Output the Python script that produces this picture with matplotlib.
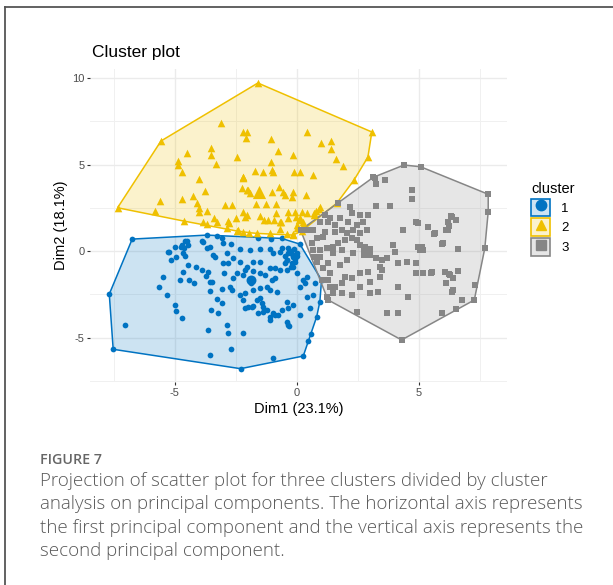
import matplotlib
matplotlib.use("Agg")
import matplotlib.pyplot as plt
from matplotlib.patches import Polygon, Patch
from matplotlib.lines import Line2D
from matplotlib.legend_handler import HandlerTuple

plt.rcParams['font.family'] = ['Liberation Sans', 'DejaVu Sans']
plt.rcParams['axes.unicode_minus'] = False

# cluster 1 (blue), Dim1 / Dim2
c1_x = [-6.75, -7.69, -7.53, -2.31, 0.26, 0.46, 0.56, 0.94, 1.01, 0.12, -0.63, -3.7,
        -3.29, -3.09, -4.59, -4.45, -4.77, -4.66, -5.27, -5.18, -3.84, -3.57, -3.02, -2.7,
        -3.43, -3.36, -2.88, -2.34, -1.93, -1.52, -1.11, -0.7, -0.97, -0.36, -0.36, -0.15,
        -0.08, -2.61, -2.82, -2.34, -2.06, -1.79, -1.52, -3.02, -2.98, -2.47, -2.2, -2.61,
        -4.45, -4.14, -4.68, -4.8, -4.41, -4.22, -3.91, -3.57, -5.48, -5.64, -5.34, -5.0,
        -4.96, -4.73, -7.04, -3.57, -3.05, -2.75, -2.68, -2.34, -3.29, -3.09, -3.52, -3.22,
        -2.88, -2.82, -3.66, -3.57, -2.7, -2.23, -1.93, -1.89, -2.13, -1.79, -1.52, -1.24,
        -1.04, -0.9, -1.11, -0.83, -2.2, -2.0, -1.79, -1.65, -1.52, -1.45, -1.38, -1.24,
        -1.11, -0.97, -0.77, -0.63, -0.42, -0.36, -0.15, -2.13, -1.79, -1.52, -1.31, -1.11,
        -0.9, -0.7, -0.42, -0.15, -0.01, 0.26, 0.33, 0.12, -0.42, -0.22, -0.08, -0.01,
        0.4, 0.4, 0.67, 0.74, 0.53, 0.81, -0.31, -1.11, -0.97, -3.64, -3.5, -3.73, -4.58,
        -5.0, -4.73, -4.63, -4.52, -3.88, -3.7, -5.23, -4.96, -2.13, -1.86, -1.59, -1.38,
        -0.9, -0.42, -0.36, 0.12, -0.5, -0.3, -0.2, -0.1, -0.6, -0.4, 0.0, -0.25, -0.5,
        -1.07, -1.59]
c1_y = [0.69, -2.49, -5.68, -6.8, -6.07, -5.18, -4.8, -2.93, -1.68, 0.4, 0.73, 0.92,
        0.88, 0.73, 0.6, 0.35, 0.25, -0.13, -0.08, -0.52, 0.54, 0.25, 0.48, 0.4,
        -0.23, -0.33, -0.13, 0.1, 0.06, 0.1, 0.1, -0.04, -0.13, 0.16, -0.13, -0.33,
        -0.62, -0.42, -0.71, -0.62, -0.91, -0.62, -0.62, -0.71, -1.29, -1.29, -1.39, -1.58,
        -0.81, -0.91, -1.2, -1.68, -1.68, -1.87, -1.1, -1.77, -1.52, -2.06, -2.56, -3.12,
        -3.47, -3.86, -4.28, -2.29, -2.2, -2.06, -2.25, -2.54, -2.77, -3.02, -3.41, -3.6,
        -4.28, -4.76, -4.57, -6.01, -5.68, -4.76, -1.68, -1.87, -2.45, -2.25, -2.16, -2.06,
        -1.68, -1.58, -2.25, -2.35, -2.83, -3.25, -3.18, -2.83, -2.73, -3.02, -3.25, -3.41,
        -3.8, -3.6, -3.7, -3.41, -2.93, -3.31, -3.12, -1.1, -1.14, -1.29, -1.39, -1.0,
        -1.0, -1.1, -1.1, -0.91, -1.29, -1.68, -1.87, -2.06, -0.52, -0.71, -0.48, -0.13,
        -1.49, -2.64, -2.54, -1.87, -3.31, -3.8, -4.34, -3.99, -6.2, -1.2, -1.77, -1.43, -0.27,
        0.25, 0.35, 0.16, 0.58, 0.58, 0.19, -0.08, -0.33, -3.31, -3.22, -3.6, -3.51,
        -3.7, -4.09, -4.28, -3.7, -0.3, 0.0, -0.2, 0.1, 0.2, -0.5, -0.3, -0.9, -0.7,
        0.69, 0.73]

# cluster 2 (yellow)
c2_x = [-7.35, -5.57, -1.6, 3.07, 2.91, 2.34, 1.64, 0.2, -0.16,
        -3.13, -2.2, -2.04, -2.09, -3.54, -4.52, -3.52, -2.46, -4.86, -4.86, -3.32, -4.73,
        -4.03, -2.23, -2.25, -2.04, -3.76, -4.25, -5.63, -4.73, -4.11, -4.03, -4.0, -3.7,
        -2.95, -2.64, -5.82, -3.39, -3.29, -2.81, -2.77, -2.2, -2.13, -2.06, -4.63, -3.84,
        -3.7, -2.88, -2.4, -2.2, -1.08, -0.77, 0.4, 0.97, 1.39, 1.39, 1.6, -1.08, -0.15,
        -1.72, -1.38, -1.04, -0.97, -0.12, 0.12, 0.64, -2.2, -2.23, -2.0, -1.93, -1.04,
        -0.74, -0.59, -0.49, -0.18, -0.19, 0.37, -1.68, -1.27, -0.86, -0.86, -0.36, -0.08,
        0.19, 0.4, 0.7, 0.91, -1.35, -1.18, -0.7, -0.04, 0.12, -2.47, -1.95, -1.65, -1.11,
        -0.7, -0.42, -0.15, -0.01, -0.01, 0.26, 1.9, 0.94, 0.78, 0.7, -0.36, 0.1, 0.26,
        -0.94, -0.67, -2.5, -1.5]
c2_y = [2.5, 6.36, 9.71, 6.88, 5.43, 4.1, 2.77, 1.16, 0.92,
        7.42, 6.86, 6.86, 6.51, 5.97, 5.68, 5.53, 5.45, 5.2, 4.97, 5.03, 4.55,
        4.18, 4.26, 3.62, 3.51, 3.45, 3.2, 2.91, 2.99, 2.79, 2.47, 2.27, 2.31,
        2.66, 2.66, 2.31, 1.93, 1.69, 1.73, 1.6, 2.24, 1.98, 2.08, 1.73, 1.69,
        1.56, 1.35, 1.21, 1.12, 6.47, 5.76, 6.9, 6.22, 6.36, 5.88, 5.34, 5.13, 5.55,
        4.62, 4.58, 4.68, 4.58, 4.58, 4.58, 4.39, 4.3, 4.2, 3.53, 3.34, 3.43,
        3.68, 3.39, 3.24, 3.43, 3.14, 3.24, 2.7, 2.72, 2.7, 2.21, 2.27, 2.27,
        2.27, 2.21, 2.21, 2.41, 1.79, 1.79, 1.69, 1.98, 1.89, 1.16, 1.06, 1.02, 1.06,
        1.25, 0.98, 0.98, 1.31, 1.5, 1.5, 4.91, 2.56, 2.31, 2.08, 1.93, 1.79, 1.69,
        1.79, 1.66, 1.9, 2.0]

# cluster 3 (grey)
c3_x = [4.39, 5.07, 7.84, 7.84, 7.7, 7.27, 6.54, 5.93, 4.29, 1.28, 1.22, 1.01, 0.15, 1.69, 3.13,
        3.2, 3.24, 3.61, 4.7, 4.73, 3.26, 3.81, 2.17, 2.24, 2.58, 2.92, 2.72, 2.45, 2.1,
        1.76, 1.35, 1.15, 1.28, 1.56, 0.94, 2.86, 2.58, 2.31, 2.04, 1.83, 1.56, 1.15, 0.67,
        0.4, 1.08, 0.81, 0.6, 0.67, 0.94, 1.22, 1.49, 1.69, 1.97, 2.24, 2.45, 2.58, 2.79,
        2.92, 3.26, 3.47, 3.68, 3.4, 3.95, 4.02, 4.36, 4.9, 5.38, 5.66, 6.13, 6.2, 6.34,
        6.54, 6.0, 6.61, 4.97, 5.11, 5.18, 5.04, 4.5, 4.9, 4.15, 5.18, 4.9, 5.52, 6.07,
        6.27, 6.41, 6.13, 4.57, 4.15, 3.68, 4.15, 2.45, 6.75, 7.3, 6.41, 6.34, 3.33, 2.99,
        2.58, 2.24, 1.97, 1.83, 1.56, 1.49, 1.83, 2.24, 2.58, 2.92, 2.99, 3.4, 3.47, 1.28,
        1.08, 1.35, 1.76, 2.04, 2.31, 1.83, 1.49, 0.94, 0.7, 0.81, 1.28, 1.35, 6.31, 6.24,
        6.18, 4.97, 5.61, 4.33, 5.96, 5.48, 6.24, 6.61, 2.86]
c3_y = [4.97, 4.87, 3.28, 2.27, 0.16, -2.83, -3.37, -3.6, -5.14, -2.83, -2.64, -1.68, 1.21, 2.76, 4.26,
        4.2, 3.86, 4.1, 3.53, 3.0, 2.62, 2.62, 2.56, 2.21, 2.08, 2.08, 1.69, 1.5, 1.69,
        1.89, 1.89, 2.08, 1.69, 1.5, 1.69, 1.21, 1.02, 1.21, 1.02, 1.21, 1.12, 1.12, 1.21,
        1.21, 0.79, 0.73, 0.44, 0.06, 0.06, 0.16, 0.25, 0.44, 0.64, 0.73, 0.64, 0.35, 0.25,
        0.06, -0.42, -0.52, -0.42, -0.91, 0.35, -0.04, 1.21, 1.69, 1.4, 1.02, 1.21, 1.69, 1.98,
        1.79, 0.44, 0.1, 0.25, 0.25, 0.06, 0.06, -0.62, -0.71, -0.71, -1.29, -1.29, -1.2, -1.2,
        -1.39, -1.58, -1.87, -2.64, -2.06, -3.6, -3.6, -3.51, -2.83, -1.97, -2.25, -2.35, -2.35, -2.45,
        -2.06, -1.58, -1.48, -1.87, -2.06, -2.45, -2.45, -2.54, -1.29, -1.2, -1.77, -1.48, -1.1, -0.71,
        -1.0, -1.29, -0.81, -0.52, -0.13, 0.06, -0.13, -0.33, -0.33, -0.62, -1.68, -2.06, 2.02, 1.45,
        1.21, 1.6, 0.98, 1.21, 0.4, -1.25, -1.33, -1.14, -0.04]

# cluster centres (drawn larger)
centre_x = [-1.89, -1.55, 2.86]
centre_y = [-1.68, 3.43, -0.04]

labels = ['1', '2', '3']
colors = ['#0073C2', '#EFC000', '#868686']
markers = ['o', '^', 's']
sizes = [17, 30, 22]


def hull(xs, ys):
    pts = sorted(set(zip(xs, ys)))

    def cross(o, a, b):
        return (a[0] - o[0]) * (b[1] - o[1]) - (a[1] - o[1]) * (b[0] - o[0])

    lower, upper = [], []
    for p in pts:
        while len(lower) >= 2 and cross(lower[-2], lower[-1], p) <= 0:
            lower.pop()
        lower.append(p)
    for p in reversed(pts):
        while len(upper) >= 2 and cross(upper[-2], upper[-1], p) <= 0:
            upper.pop()
        upper.append(p)
    return lower[:-1] + upper[:-1]


fig = plt.figure(figsize=(6.13, 5.85), dpi=100)
ax = fig.add_axes([90 / 613, 1 - 382 / 585, 417 / 613, 313 / 585])

data = [(c1_x, c1_y), (c2_x, c2_y), (c3_x, c3_y)]
for (xs, ys), col in zip(data, colors):
    ax.add_patch(Polygon(hull(xs, ys), closed=True, facecolor=col, alpha=0.2,
                         edgecolor='none', zorder=2))
    ax.add_patch(Polygon(hull(xs, ys), closed=True, facecolor='none',
                         edgecolor=col, lw=1.1, zorder=3))
for (xs, ys), col, m, s in zip(data, colors, markers, sizes):
    ax.scatter(xs, ys, s=s, c=col, marker=m, linewidths=0, zorder=4)
for i in range(3):
    ax.scatter([centre_x[i]], [centre_y[i]], s=sizes[i] * 3, c=colors[i],
               marker=markers[i], linewidths=0, zorder=5)

ax.set_xlim(-8.48, 8.61)
ax.set_ylim(-7.57, 10.52)
ax.set_xticks([-5, 0, 5])
ax.set_yticks([-5, 0, 5, 10])
ax.set_xticks([-7.5, -2.5, 2.5, 7.5], minor=True)
ax.set_yticks([-7.5, -2.5, 2.5, 7.5], minor=True)
ax.grid(which='major', color='#EBEBEB', lw=1.0, zorder=0)
ax.grid(which='minor', color='#F0F0F0', lw=0.7, zorder=0)
ax.set_axisbelow(True)
for sp in ax.spines.values():
    sp.set_visible(False)
ax.tick_params(which='major', length=2.5, width=0.8, color='#333333',
               labelsize=8, labelcolor='#4D4D4D', pad=1.5)
ax.tick_params(which='minor', length=0)

ax.set_xlabel('Dim1 (23.1%)', fontsize=10.5, labelpad=3)
ax.set_ylabel('Dim2 (18.1%)', fontsize=10.5, labelpad=3)
fig.text(92 / 613, 1 - 52 / 585, 'Cluster plot', fontsize=12.5, va='center', ha='left')

handles = []
for col, m in zip(colors, markers):
    box = Patch(facecolor=col + '33', edgecolor=col, lw=1.2)
    mk = Line2D([], [], color=col, marker=m, ls='none', markersize=7.5)
    handles.append((box, mk))
leg = fig.legend(handles, labels, title='cluster', loc='upper left',
                 bbox_to_anchor=(526 / 613, 1 - 177 / 585), frameon=False,
                 handler_map={tuple: HandlerTuple(ndivide=1, pad=0)},
                 handlelength=1.45, handleheight=1.65, labelspacing=0.18,
                 handletextpad=0.8, fontsize=9.5, title_fontsize=10.5,
                 alignment='left', borderaxespad=0)

# frame around the figure panel
fig.add_artist(Line2D([5 / 613, 5 / 613], [0, 1 - 7 / 585], color='#555555', lw=1.3))
fig.add_artist(Line2D([5 / 613, 1], [1 - 7 / 585, 1 - 7 / 585], color='#555555', lw=1.3))

cap_font = ['Open Sans', 'DejaVu Sans']
fig.text(40 / 613, 1 - 460 / 585, 'FIGURE 7', fontsize=10.3, color='#666666',
         family=cap_font, weight='semibold', va='center')
caption = ['Projection of scatter plot for three clusters divided by cluster',
           'analysis on principal components. The horizontal axis represents',
           'the first principal component and the vertical axis represents the',
           'second principal component.']
for i, line in enumerate(caption):
    fig.text(40 / 613, 1 - (481 + i * 23.3) / 585, line, fontsize=13.5,
             color='#595959', family=cap_font, weight='light', va='center')

fig.savefig('out.png', dpi=100)
